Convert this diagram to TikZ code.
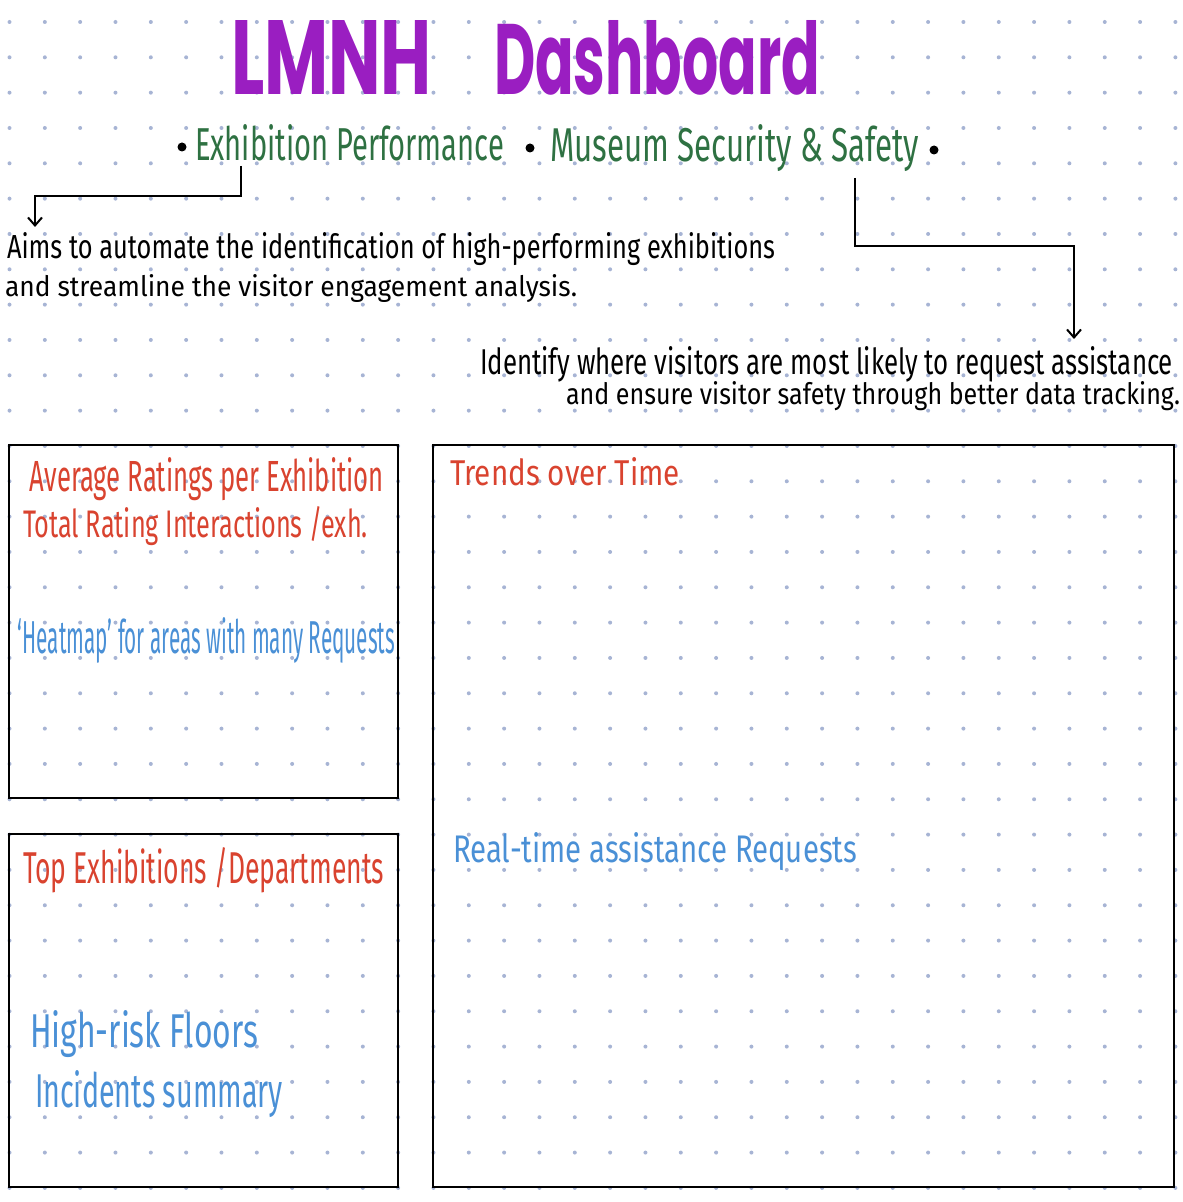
\documentclass[tikz,border=0pt]{standalone}
\usepackage{fontspec}
\setmainfont{Fira Sans}
\newfontfamily\titlefont{Poppins}
\usetikzlibrary{arrows.meta}

\definecolor{titlepurple}{RGB}{154,30,193}
\definecolor{topicgreen}{RGB}{46,113,66}
\definecolor{panelred}{RGB}{217,67,47}
\definecolor{panelblue}{RGB}{74,144,214}
\definecolor{dotgrey}{RGB}{167,180,212}

% one pixel of the sketch
\newlength\pxunit
\setlength\pxunit{0.5pt}
% squeeze a line of text into a width and height given in pixels
\newcommand{\handfit}[3]{\resizebox{#1\pxunit}{#2\pxunit}{#3}}

\begin{document}
\begin{tikzpicture}[
        x=0.5pt, y=-0.5pt,
        hand/.style={anchor=base west, inner sep=0pt, outer sep=0pt},
        griddot/.style={fill=dotgrey},
        bulletpt/.style={circle, fill=black, inner sep=0pt, minimum size=4.5pt},
        panel/.style={draw=black, line width=1.2pt},
        pointer/.style={draw=black, line width=1pt, -{Straight Barb[length=4pt, width=7pt]}}
    ]
        \useasboundingbox (0,0) rectangle (1182,1202);

        % Dotted paper
        \foreach \i in {0,...,33}
            \foreach \j in {0,...,33}
                \fill[griddot] (9.5+35.33*\i, 22+35.33*\j) circle[radius=1pt];

        % Title and topics
        \node[hand, text=titlepurple] (title) at (231,95) {\titlefont\bfseries\handfit{201}{74}{LMNH}\hspace{62\pxunit}\handfit{326}{74}{Dashboard}};
        \node[bulletpt] (bulleta) at (182,147) {};
        \node[hand, text=topicgreen] (exhperf) at (195,161) {\handfit{309}{36}{Exhibition Performance}};
        \node[bulletpt] (bulletb) at (530,148) {};
        \node[hand, text=topicgreen] (secsafety) at (550,162) {\handfit{369}{37}{Museum Security \& Safety}};
        \node[bulletpt] (bulletc) at (934,150) {};

        % Aims of each topic
        \node[hand] (aimsa) at (7,259) {\handfit{768}{26}{Aims to automate the identification of high-performing exhibitions}};
        \node[hand] (aimsb) at (5,297) {\handfit{572}{22}{and streamline the visitor engagement analysis.}};
        \node[hand] (identa) at (480,375) {\handfit{693}{28}{Identify where visitors are most likely to request assistance}};
        \node[hand] (identb) at (566,405) {\handfit{614}{23}{and ensure visitor safety through better data tracking.}};

        % Pointers from the topics to their aims
        \coordinate (exharrow) at (241,166);
        \coordinate (aimsarrow) at (35,227);
        \coordinate (safarrow) at (855,178);
        \coordinate (identarrow) at (1074,339);
        \draw[pointer] (exharrow) -- ++(0,30) -| (aimsarrow);
        \draw[pointer] (safarrow) -- ++(0,68) -| (identarrow);

        % Panels
        \draw[panel] (9,445) rectangle (398,798);
        \draw[panel] (9,834) rectangle (398,1187);
        \draw[panel] (433,445) rectangle (1174,1187);

        % Ratings panel
        \node[hand, text=panelred] (avgrating) at (30,492) {\handfit{354}{34}{Average Ratings per Exhibition}};
        \node[hand, text=panelred] (totalrating) at (23,538) {\handfit{345}{31}{Total Rating Interactions /exh.}};
        \node[hand, text=panelblue] (heatmap) at (18,653) {\handfit{377}{36}{`Heatmap' for areas with many Requests}};

        % Top exhibitions panel
        \node[hand, text=panelred] (topexh) at (23,883) {\handfit{361}{36}{Top Exhibitions /Departments}};
        \node[hand, text=panelblue] (highrisk) at (30,1047) {\handfit{228}{37}{High-risk Floors}};
        \node[hand, text=panelblue] (incidents) at (35,1107) {\handfit{248}{37}{Incidents summary}};

        % Trends panel
        \node[hand, text=panelred] (trends) at (450,485) {\handfit{230}{28}{Trends over Time}};
        \node[hand, text=panelblue] (realtime) at (453,862) {\handfit{404}{30}{Real-time assistance Requests}};
    \end{tikzpicture}
\end{document}
